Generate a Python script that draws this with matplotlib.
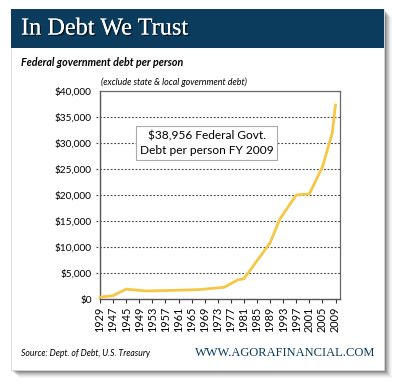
import numpy as np
import matplotlib
matplotlib.use("Agg")
import matplotlib.pyplot as plt
import matplotlib.patheffects as pe
from matplotlib.patches import Rectangle

# data (federal debt per person, US$)
years = [1929, 1941, 1945, 1951, 1959, 1967, 1975, 1979, 1981,
         1989, 1992, 1997, 2001, 2005, 2008, 2009]
debt = [350, 650, 1900, 1550, 1650, 1800, 2250, 3650, 3900,
        10800, 15400, 20000, 20200, 25400, 31900, 37300]

# axis categories (the second label reads "1947" in the original)
tick_years = [1929, 1941, 1945, 1949, 1953, 1957, 1961, 1965, 1969, 1973,
              1977, 1981, 1985, 1989, 1993, 1997, 2001, 2005, 2009]
tick_labels = ["1929", "1947", "1945", "1949", "1953", "1957", "1961", "1965",
               "1969", "1973", "1977", "1981", "1985", "1989", "1993", "1997",
               "2001", "2005", "2009"]
y_ticks = [0, 5000, 10000, 15000, 20000, 25000, 30000, 35000, 40000]

NAVY = "#0b3c5d"
GOLD = "#f6c744"
SANS = ["Lato", "DejaVu Sans"]
SERIF = ["Liberation Serif", "DejaVu Serif"]

W, H = 400, 388


def fx(px):
    return px / W


def fy(py):
    return 1 - py / H


fig = plt.figure(figsize=(4, 3.88), dpi=100)
fig.patch.set_facecolor("white")

# drop shadow + card
for i, a in enumerate([0.16, 0.14, 0.12, 0.10, 0.08, 0.06, 0.04, 0.03]):
    off = i + 1
    fig.patches.append(Rectangle((fx(11 + off), fy(370 + off)), fx(373), 361 / H,
                                 transform=fig.transFigure, facecolor="black",
                                 alpha=a, edgecolor="none", zorder=0))
fig.patches.append(Rectangle((fx(11), fy(370)), fx(373), 361 / H,
                             transform=fig.transFigure, facecolor="white",
                             edgecolor="#d8d8d8", lw=0.6, zorder=1))
fig.patches.append(Rectangle((fx(11), fy(48)), fx(373), 39 / H,
                             transform=fig.transFigure, facecolor=NAVY,
                             edgecolor="none", zorder=2))

fig.text(fx(21), fy(29), "In Debt We Trust", family=SERIF, fontsize=17.5,
         color="white", va="center", ha="left", zorder=3,
         path_effects=[pe.withSimplePatchShadow(offset=(1, -1), shadow_rgbFace="black", alpha=0.7),
                       pe.Normal()])
fig.text(fx(21), fy(62), "Federal government debt per person", family=SANS,
         fontsize=7.7, fontweight="bold", fontstyle="italic", va="center", zorder=3)
fig.text(fx(101), fy(82), "(exclude state & local government debt)", family=SANS,
         fontsize=6.4, fontstyle="italic", va="center", zorder=3)
fig.text(fx(21), fy(353), "Source: Dept. of Debt, U.S. Treasury", family=SANS,
         fontsize=6.2, fontstyle="italic", va="center", zorder=3)
fig.text(fx(375), fy(353), "WWW.AGORAFINANCIAL.COM", family=SERIF,
         fontsize=9, color=NAVY, va="center", ha="right", zorder=3)

# chart
ax = fig.add_axes([fx(100), fy(299), fx(239.7), 208 / H])
ax.set_zorder(4)
ax.patch.set_alpha(0)

idx = np.arange(len(tick_years))
xpos = np.interp(years, tick_years, idx)
ax.plot(xpos, debt, color=GOLD, lw=2, solid_joinstyle="round", zorder=3, clip_on=False)

ax.set_xlim(0, 18.32)
ax.set_ylim(0, 40000)
ax.set_xticks(idx)
ax.set_xticklabels(tick_labels, rotation=90, family=SANS, fontsize=7.8)
ax.set_yticks(y_ticks)
ax.set_yticklabels(["${:,}".format(v) for v in y_ticks], family=SANS, fontsize=7.3)
ax.tick_params(axis="y", length=0, pad=6)
ax.tick_params(axis="x", length=3, width=0.8, color="#333333", pad=2.5)

ax.hlines(y_ticks[1:-1], -0.017, 1, transform=ax.get_yaxis_transform(),
          colors="#444444", lw=0.8, linestyles=(0, (1.6, 1.6)), clip_on=False, zorder=1)

for side in ["left", "bottom"]:
    ax.spines[side].set_color("#555555")
    ax.spines[side].set_linewidth(1.0)
for side in ["top", "right"]:
    ax.spines[side].set_color("#666666")
    ax.spines[side].set_linewidth(0.9)

ax.text(0.446, 0.75, "$38,956 Federal Govt.\nDebt per person FY 2009",
        transform=ax.transAxes, ha="center", va="center", family=SANS,
        fontsize=8.6, linespacing=1.45, zorder=5,
        bbox=dict(boxstyle="square,pad=0.3", facecolor="white", edgecolor="#aaaaaa", lw=0.8))

plt.savefig("out.png", dpi=100)
